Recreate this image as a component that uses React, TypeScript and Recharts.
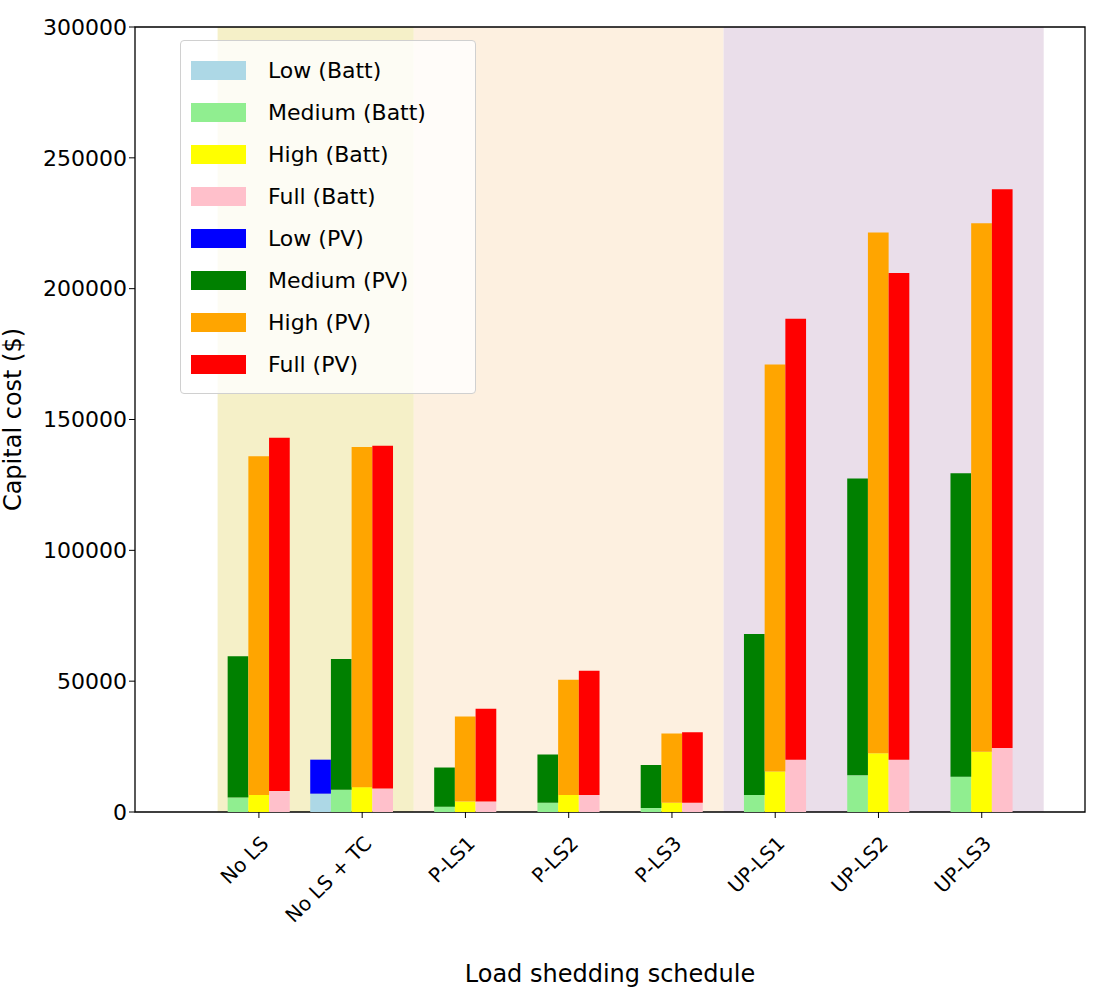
import { Bar, ComposedChart, Legend, ReferenceArea, XAxis, YAxis } from "recharts";

const schedules = ["No LS", "No LS + TC", "P-LS1", "P-LS2", "P-LS3", "UP-LS1", "UP-LS2", "UP-LS3"];

// battery part (bottom) and total bar height (battery + PV)
const lowBatt = [0, 7000, 0, 0, 0, 0, 0, 0];
const lowTotal = [0, 20000, 0, 0, 0, 0, 0, 0];
const medBatt = [5500, 8500, 2000, 3500, 1500, 6500, 14000, 13500];
const medTotal = [59500, 58500, 17000, 22000, 18000, 68000, 127500, 129500];
const highBatt = [6500, 9500, 4000, 6500, 3500, 15500, 22500, 23000];
const highTotal = [136000, 139500, 36500, 50500, 30000, 171000, 221500, 225000];
const fullBatt = [8000, 9000, 4000, 6500, 3500, 20000, 20000, 24500];
const fullTotal = [143000, 140000, 39500, 54000, 30500, 188500, 206000, 238000];

const yTicks = [0, 50000, 100000, 150000, 200000, 250000, 300000];

const series = [
	{ key: "lowB", name: "Low (Batt)", color: "#add8e6", stack: "low" },
	{ key: "medB", name: "Medium (Batt)", color: "#90ee90", stack: "med" },
	{ key: "highB", name: "High (Batt)", color: "#ffff00", stack: "high" },
	{ key: "fullB", name: "Full (Batt)", color: "#ffc0cb", stack: "full" },
	{ key: "lowP", name: "Low (PV)", color: "#0000ff", stack: "low" },
	{ key: "medP", name: "Medium (PV)", color: "#008000", stack: "med" },
	{ key: "highP", name: "High (PV)", color: "#ffa500", stack: "high" },
	{ key: "fullP", name: "Full (PV)", color: "#ff0000", stack: "full" },
];

const data = schedules.map((s, i) => ({
	x: i - 0.1,
	lowB: lowBatt[i],
	lowP: lowTotal[i] - lowBatt[i],
	medB: medBatt[i],
	medP: medTotal[i] - medBatt[i],
	highB: highBatt[i],
	highP: highTotal[i] - highBatt[i],
	fullB: fullBatt[i],
	fullP: fullTotal[i] - fullBatt[i],
}));

const font = "DejaVu Sans, sans-serif";

function XTick({ x, y, payload }: any) {
	return (
		<text
			x={x}
			y={y + 14}
			transform={`rotate(-45 ${x} ${y + 14})`}
			textAnchor="end"
			dominantBaseline="hanging"
			fontSize={20}
			fill="#000"
			fontFamily={font}
		>
			{schedules[payload.value]}
		</text>
	);
}

function LegendBox() {
	return (
		<div
			style={{
				position: "absolute",
				left: 180,
				top: 40,
				width: 296,
				background: "rgba(255,255,255,0.8)",
				border: "1px solid #d0d0d0",
				borderRadius: 4,
				padding: "8px 10px",
				boxSizing: "border-box",
				fontFamily: font,
				fontSize: 22,
			}}
		>
			{series.map((s) => (
				<div key={s.key} style={{ display: "flex", alignItems: "center", height: 42 }}>
					<span style={{ width: 55, height: 19, background: s.color, display: "inline-block", marginRight: 22 }} />
					{s.name}
				</div>
			))}
		</div>
	);
}

export default function App() {
	return (
		<div style={{ position: "absolute", left: 0, top: 0, width: 1100, height: 1000, background: "#fff" }}>
			<ComposedChart
				width={1100}
				height={1000}
				data={data}
				margin={{ top: 27, right: 15, bottom: 0, left: 0 }}
				barGap={0}
			>
				<ReferenceArea x1={-0.4} x2={1.5} y1={0} y2={300000} fill="#f5f0c8" fillOpacity={1} ifOverflow="visible" />
				<ReferenceArea x1={1.5} x2={4.5} y1={0} y2={300000} fill="#fdf0e0" fillOpacity={1} ifOverflow="visible" />
				<ReferenceArea x1={4.5} x2={7.6} y1={0} y2={300000} fill="#eadeea" fillOpacity={1} ifOverflow="visible" />
				<XAxis
					dataKey="x"
					type="number"
					domain={[-1.2, 8]}
					ticks={[0, 1, 2, 3, 4, 5, 6, 7]}
					interval={0}
					tick={<XTick />}
					tickLine={{ stroke: "#000" }}
					tickSize={6}
					axisLine={false}
					height={188}
					allowDataOverflow
					label={{ value: "Load shedding schedule", position: "insideBottom", offset: 18, fontSize: 24, fill: "#000", fontFamily: font }}
				/>
				<YAxis
					domain={[0, 300000]}
					ticks={yTicks}
					width={135}
					tick={{ fontSize: 22, fill: "#000", fontFamily: font }}
					tickLine={{ stroke: "#000" }}
					tickSize={6}
					axisLine={false}
					allowDataOverflow
					label={{ value: "Capital cost ($)", angle: -90, position: "insideLeft", offset: 12, fontSize: 24, fill: "#000", fontFamily: font, style: { textAnchor: "middle" } }}
				/>
				{series.map((s) => (
					<Bar
						key={s.key}
						dataKey={s.key}
						name={s.name}
						stackId={s.stack}
						fill={s.color}
						barSize={20.7}
						isAnimationActive={false}
					/>
				))}
				<ReferenceArea x1={-1.2} x2={8} y1={0} y2={300000} fill="none" stroke="#000" strokeWidth={1.3} ifOverflow="visible" />
				<Legend content={() => null} />
			</ComposedChart>
			<LegendBox />
		</div>
	);
}
